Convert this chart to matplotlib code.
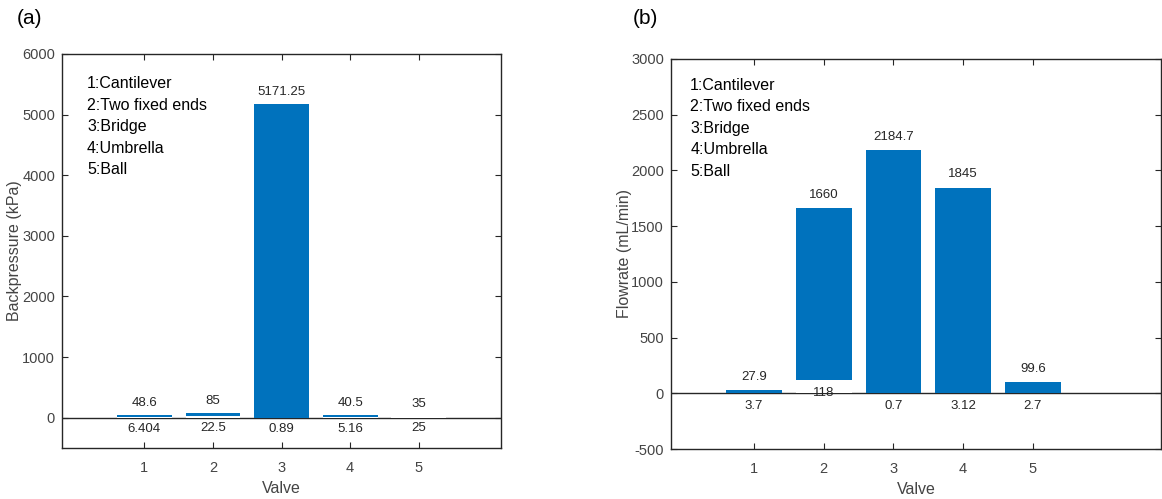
import matplotlib
matplotlib.use('Agg')
import matplotlib.pyplot as plt

plt.rcParams['font.family'] = ['Liberation Sans', 'DejaVu Sans']
plt.rcParams['axes.unicode_minus'] = False

# data
valves = [1, 2, 3, 4, 5]
valve_names = ['1:Cantilever', '2:Two fixed ends', '3:Bridge', '4:Umbrella', '5:Ball']

backpressure_top = [48.6, 85, 5171.25, 40.5, 35]
backpressure_low = [6.404, 22.5, 0.89, 5.16, 25]
backpressure_top_txt = ['48.6', '85', '5171.25', '40.5', '35']
backpressure_low_txt = ['6.404', '22.5', '0.89', '5.16', '25']

flowrate_top = [27.9, 1660, 2184.7, 1845, 99.6]
flowrate_low = [3.7, 118, 0.7, 3.12, 2.7]
flowrate_top_txt = ['27.9', '1660', '2184.7', '1845', '99.6']
flowrate_low_txt = ['3.7', '118', '0.7', '3.12', '2.7']

BLUE = '#0072BD'
GRAY = '#444444'
AXC = '#262626'


def draw_panel(ax, top, low, top_txt, low_txt, ylabel, ylim, yticks, xlim,
               off, names_xy, ylab_x, xlab_y):
    ax.axhline(0, color=AXC, lw=1.0, zorder=1)
    ax.bar(valves, top, width=0.8, color=BLUE, zorder=2)
    ax.bar(valves, low, width=0.8, color='white', zorder=3)
    for x, v, t in zip(valves, top, top_txt):
        ax.annotate(t, (x, v), xytext=(0, off), textcoords='offset points',
                    ha='center', va='center', fontsize=9.5, color=AXC, zorder=4)
    for x, v, t in zip(valves, low, low_txt):
        ax.annotate(t, (x, v), xytext=(0, -off), textcoords='offset points',
                    ha='center', va='center', fontsize=9.5, color=AXC, zorder=4)
    ax.set_xlim(*xlim)
    ax.set_ylim(*ylim)
    ax.set_xticks(valves)
    ax.set_yticks(yticks)
    ax.tick_params(direction='in', top=True, right=True, length=4,
                   labelsize=10.5, colors=AXC, labelcolor=GRAY)
    ax.tick_params(axis='y', pad=5)
    ax.tick_params(axis='x', pad=9)
    for s in ax.spines.values():
        s.set_color(AXC)
        s.set_linewidth(1.0)
    ax.set_xlabel('Valve', fontsize=11.5, color=GRAY)
    ax.set_ylabel(ylabel, fontsize=11.5, color=GRAY)
    ax.xaxis.set_label_coords(0.5, xlab_y)
    ax.yaxis.set_label_coords(ylab_x, 0.5)
    nx, ny, dy = names_xy
    for i, name in enumerate(valve_names):
        ax.text(nx, ny - i * dy, name, transform=ax.transAxes,
                ha='left', va='center', fontsize=11.5, color='black')


fig = plt.figure(figsize=(11.62, 4.99), dpi=100)
ax1 = fig.add_axes([0.0534, 0.1022, 0.3778, 0.7896])
ax2 = fig.add_axes([0.5775, 0.1002, 0.4217, 0.7816])

draw_panel(ax1, backpressure_top, backpressure_low, backpressure_top_txt,
           backpressure_low_txt, 'Backpressure (kPa)', (-500, 6000),
           range(0, 6001, 1000), (-0.2, 6.2), 8.5,
           (0.057, 0.924, 0.0546), -0.091, -0.084)
draw_panel(ax2, flowrate_top, flowrate_low, flowrate_top_txt,
           flowrate_low_txt, 'Flowrate (mL/min)', (-500, 3000),
           range(-500, 3001, 500), (-0.19, 6.84), 9.5,
           (0.039, 0.933, 0.0551), -0.080, -0.085)

fig.text(30 / 1162, 1 - 18 / 499, '(a)', fontsize=15, ha='center', va='center')
fig.text(645 / 1162, 1 - 18 / 499, '(b)', fontsize=15, ha='center', va='center')

fig.savefig('out.png', dpi=100)
